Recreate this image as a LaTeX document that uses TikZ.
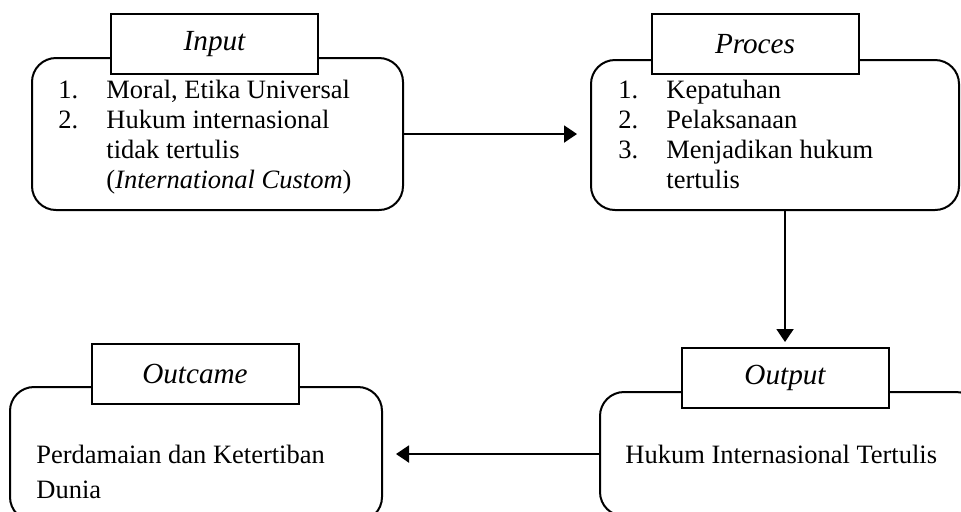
\documentclass[tikz,border=0pt]{standalone}
\usepackage{fontspec}
\setmainfont{Liberation Serif}
\usetikzlibrary{arrows.meta}

\begin{document}
\begin{tikzpicture}[x=0.5pt, y=-0.5pt,
  panel/.style={draw, line width=1pt, rounded corners=12pt, inner sep=0pt},
  tag/.style={draw, line width=1pt, fill=white, minimum width=103.5pt, minimum height=30pt, inner sep=0pt, font=\fontsize{14.6pt}{16pt}\selectfont\itshape},
  body/.style={anchor=north west, inner sep=0pt, align=left, font=\fontsize{13.25pt}{15pt}\selectfont},
  link/.style={line width=1pt, -{Triangle[length=6.5pt, width=8.5pt]}}]
% Set the canvas size (1 unit = 1 pixel of the sheet)
\useasboundingbox (0,0) rectangle (961,511);
\clip (0,0) rectangle (961,511);
\def\numgap{24pt} % room for the list numbers

% Draw the rounded boxes
\node[panel, minimum width=185.5pt, minimum height=76pt] (inbox) at (217.5,134) {};
\node[panel, minimum width=184pt, minimum height=75pt] (probox) at (775,135) {};
\node[panel, minimum width=190pt, minimum height=62pt] (outbox) at (790,454) {};
\node[panel, minimum width=186pt, minimum height=67pt] (outcbox) at (196,454) {};

% Draw the title boxes on top
\node[tag] (inlab) at (214.5,44) {Input};
\node[tag] (prolab) at (755,44) {Proces};
\node[tag] (outlab) at (785,378) {Output};
\node[tag] (outclab) at (195,374) {Outcame};

% Insert the texts
\node[body] (intext) at (58,80) {\makebox[\numgap][l]{1.}Moral, Etika Universal\\
  \makebox[\numgap][l]{2.}Hukum internasional\\
  \hspace*{\numgap}tidak tertulis\\
  \hspace*{\numgap}(\textit{International Custom})};
\node[body] (protext) at (618,80) {\makebox[\numgap][l]{1.}Kepatuhan\\
  \makebox[\numgap][l]{2.}Pelaksanaan\\
  \makebox[\numgap][l]{3.}Menjadikan hukum\\
  \hspace*{\numgap}tertulis};
\node[body] (outtext) at (625,445) {Hukum Internasional Tertulis};
\node[body, font=\fontsize{13.25pt}{17.5pt}\selectfont] (outctext) at (36,445) {Perdamaian dan Ketertiban\\Dunia};

% Draw the arrows
\draw[link, shorten >=6.5pt] (inbox.east) -- (inbox.east -| probox.west);
\draw[link, shorten >=2.5pt] (outlab.north |- probox.south) -- (outlab.north);
\draw[link, shorten >=6.5pt] (outbox.west) -- (outbox.west -| outcbox.east);
\end{tikzpicture}
\end{document}
